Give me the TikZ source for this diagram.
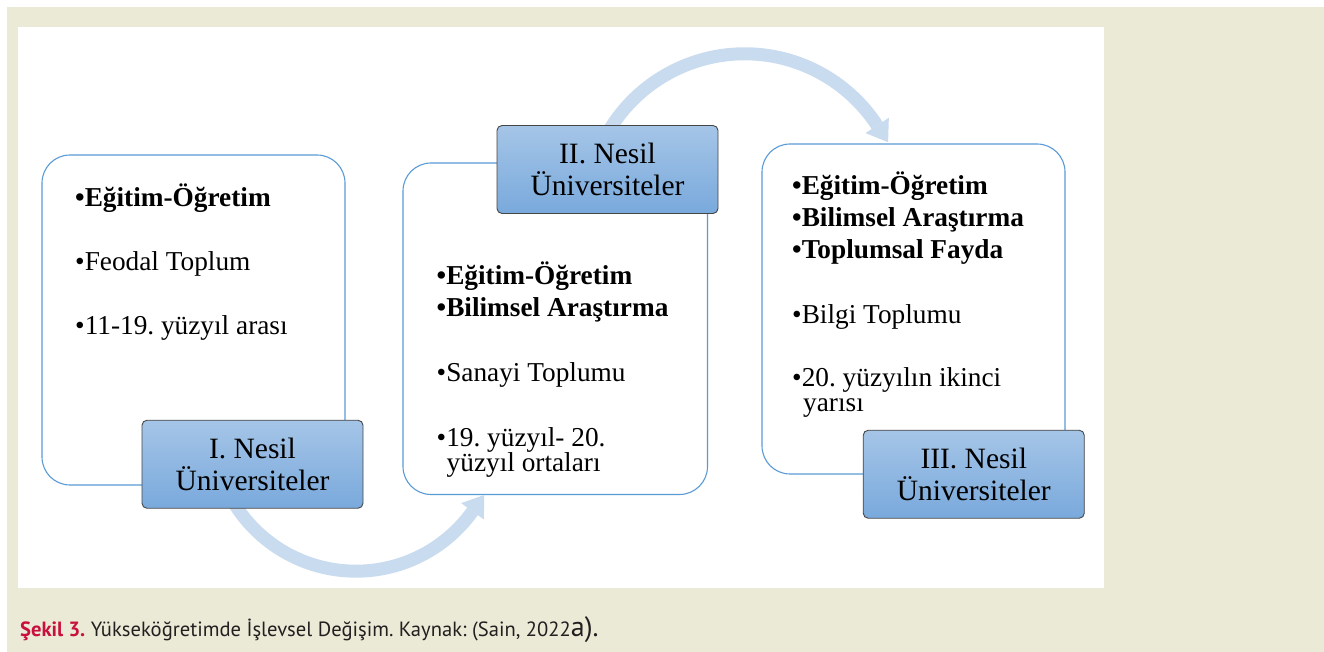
\documentclass[tikz,border=0pt]{standalone}
\usepackage{fontspec}
\setmainfont{Liberation Serif}
\newfontfamily\capfont{PT Sans}
\usetikzlibrary{calc}
\frenchspacing
\definecolor{pagebg}{RGB}{235,234,215}
\definecolor{boxline}{RGB}{91,155,213}
\definecolor{titletop}{RGB}{165,197,231}
\definecolor{titlebot}{RGB}{121,169,220}
\definecolor{titleline}{RGB}{70,70,70}
\definecolor{arrowcol}{RGB}{200,219,239}
\definecolor{capred}{RGB}{200,16,60}
\definecolor{captext}{RGB}{35,31,32}
\tikzset{
  contentbox/.style={draw=boxline, line width=1.1pt, fill=white, rounded corners=28pt,
    minimum width=303pt, minimum height=330pt, inner sep=0pt},
  titlebox/.style={draw=titleline, line width=0.9pt, rounded corners=5pt,
    top color=titletop, bottom color=titlebot, minimum width=221pt, minimum height=88pt,
    align=center, inner sep=0pt, font=\fontsize{29.5}{31.5}\selectfont},
  item/.style={anchor=base west, inner sep=0pt, font=\fontsize{27.3}{30}\selectfont},
  bolditem/.style={anchor=base west, inner sep=0pt, font=\fontsize{27.3}{30}\selectfont\bfseries},
  flow/.style={draw=arrowcol, line width=13pt},
  flowhead/.style={fill=arrowcol}
}
\begin{document}
\frenchspacing
\begin{tikzpicture}[x=1pt,y=1pt]
\useasboundingbox (0,0) rectangle (1324,652);
\fill[white] (0,0) rectangle (1324,652);
\fill[pagebg] (7,0) rectangle (1324,645);
\fill[white] (18,64) rectangle (1104,625);

% content boxes
\node[contentbox] (b1) at (193.5,332) {};
\node[contentbox, minimum width=304.5pt, minimum height=331.5pt] (b2) at (555.25,323.25) {};
\node[contentbox] (b3) at (913.5,343) {};

% title box positions (anchors for the arrows)
\path (252.5,187.75) coordinate (t1pos) (607.5,482.5) coordinate (t2pos) (973.75,177.75) coordinate (t3pos);
\node[minimum width=221pt, minimum height=88pt, inner sep=0pt] (t1a) at (t1pos) {};
\node[minimum width=221pt, minimum height=88pt, inner sep=0pt] (t2a) at (t2pos) {};

% curved arrows
\coordinate (a1s) at ($(t1a.south)+(-20.6,8.9)$);
\draw[flow] (a1s) arc[start angle=210, end angle=324.4, radius=143.3] coordinate (a1e);
\fill[flowhead] ($(a1e)+(144.4:14)$) -- ($(a1e)+(54.4:20)$) -- ($(a1e)+(-35.6:14)$) -- cycle;

\coordinate (a2s) at ($(t2a.north)+(-2.6,-12.5)$);
\draw[flow] (a2s) arc[start angle=152, end angle=33.2, radius=158.3] coordinate (a2e);
\fill[flowhead] ($(a2e)+(33.2:14)$) -- ($(a2e)+(-56.8:20)$) -- ($(a2e)+(213.2:14)$) -- cycle;

% title boxes
\node[titlebox] (t1) at (t1pos) {I. Nesil\\Üniversiteler};
\node[titlebox] (t2) at (t2pos) {II. Nesil\\Üniversiteler};
\node[titlebox] (t3) at (t3pos) {III. Nesil\\Üniversiteler};

% box 1 text
\node[bolditem] (b1a) at (75,445) {\textbullet Eğitim-Öğretim};
\node[item] (b1b) at (75,381) {\textbullet Feodal Toplum};
\node[item] (b1c) at (75,317) {\textbullet 11-19. yüzyıl arası};

% box 2 text
\node[bolditem] (b2a) at (436.5,367) {\textbullet Eğitim-Öğretim};
\node[bolditem] (b2b) at (436.5,335.3) {\textbullet Bilimsel Araştırma};
\node[item] (b2c) at (436.5,270.3) {\textbullet Sanayi Toplumu};
\node[item] (b2d) at (436.5,205.3) {\textbullet 19. yüzyıl- 20.};
\node[item] (b2e) at (446.5,180.3) {yüzyıl ortaları};

% box 3 text
\node[bolditem] (b3a) at (792,457) {\textbullet Eğitim-Öğretim};
\node[bolditem] (b3b) at (792,425.3) {\textbullet Bilimsel Araştırma};
\node[bolditem] (b3c) at (792,393.7) {\textbullet Toplumsal Fayda};
\node[item] (b3d) at (792,328.7) {\textbullet Bilgi Toplumu};
\node[item] (b3e) at (792,265.3) {\textbullet 20. yüzyılın ikinci};
\node[item] (b3f) at (803,240) {yarısı};

% caption
\node[anchor=base west, inner sep=0pt, text=captext, font=\capfont\fontsize{20.6}{24}\selectfont] (cap) at (20,15)
  {\textcolor{capred}{\bfseries Şekil 3.} Yükseköğretimde İşlevsel Değişim. Kaynak: (Sain, 2022{\fontsize{28}{28}\selectfont a).}};
\end{tikzpicture}
\end{document}
